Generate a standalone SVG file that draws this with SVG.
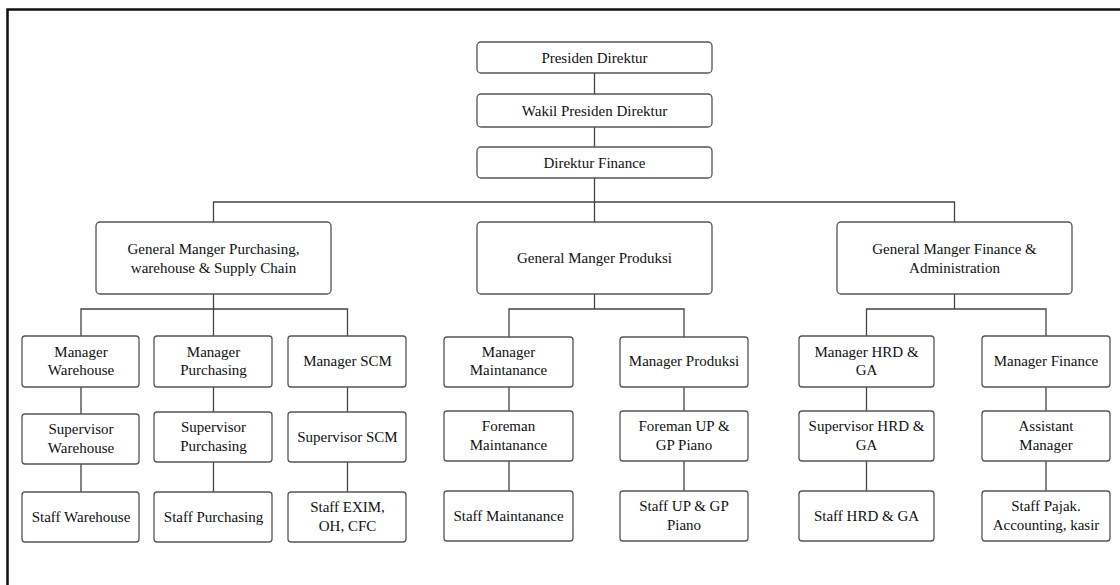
<svg xmlns="http://www.w3.org/2000/svg" width="1120" height="585" viewBox="0 0 1120 585">
  <style>
    .box { fill: #ffffff; stroke: #555555; stroke-width: 1.3; }
    text { font-family: 'Liberation Serif', Tinos, 'Noto Serif', FreeSerif, Times, 'DejaVu Serif', serif; font-size: 15px; fill: #111111; text-anchor: middle; }
    .wire { fill: none; stroke: #444444; stroke-width: 1.3; }
    .frame { fill: none; stroke: #111111; stroke-width: 2.5; }
  </style>

  <rect x="0" y="0" width="1120" height="585" fill="#ffffff"/>
  <!-- page frame (top and left edges) -->
  <path class="frame" d="M7.5,585 V9.5 H1120"/>

  <!-- connectors -->
  <g id="connectors">
    <path class="wire" d="M594.5,73 V94 M594.5,127 V147 M594.5,178 V222"/>
    <path class="wire" d="M213.5,222 V202 H954.5 V222"/>
    <!-- purchasing branch -->
    <path class="wire" d="M213.5,294 V309 M81,336 V309 H347.5 V336 M213.5,309 V336"/>
    <path class="wire" d="M81,387 V414 M81,464 V492 M213.5,387 V412 M213.5,462 V492 M347.5,387 V412 M347.5,462 V492"/>
    <!-- production branch -->
    <path class="wire" d="M594.5,294 V309 M509,337 V309 H684 V337"/>
    <path class="wire" d="M509,387 V411 M509,461 V491 M684,387 V411 M684,461 V491"/>
    <!-- finance branch -->
    <path class="wire" d="M954.5,294 V309 M866.5,336 V309 H1046 V336"/>
    <path class="wire" d="M866.5,387 V411 M866.5,461 V491 M1046,387 V411 M1046,461 V491"/>
  </g>

  <!-- top management -->
  <g id="presiden-direktur">
    <rect class="box" x="477" y="42" width="235" height="31" rx="4"/>
    <text x="594.5" y="62.5">Presiden Direktur</text>
  </g>
  <g id="wakil-presiden-direktur">
    <rect class="box" x="477" y="94" width="235" height="33" rx="4"/>
    <text x="594.5" y="115.5">Wakil Presiden Direktur</text>
  </g>
  <g id="direktur-finance">
    <rect class="box" x="477" y="147" width="235" height="31" rx="4"/>
    <text x="594.5" y="167.5">Direktur Finance</text>
  </g>

  <!-- general managers -->
  <g id="gm-purchasing">
    <rect class="box" x="96" y="222" width="235" height="72" rx="4"/>
    <text x="213.5" y="254">General Manger Purchasing,</text>
    <text x="213.5" y="273">warehouse &amp; Supply Chain</text>
  </g>
  <g id="gm-produksi">
    <rect class="box" x="477" y="222" width="235" height="72" rx="4"/>
    <text x="594.5" y="263">General Manger Produksi</text>
  </g>
  <g id="gm-finance">
    <rect class="box" x="837" y="222" width="235" height="72" rx="4"/>
    <text x="954.5" y="254">General Manger Finance &amp;</text>
    <text x="954.5" y="273">Administration</text>
  </g>

  <!-- purchasing, warehouse & supply chain -->
  <g id="manager-warehouse">
    <rect class="box" x="22" y="336" width="117" height="51" rx="3"/>
    <text x="81" y="357">Manager</text>
    <text x="81" y="375">Warehouse</text>
  </g>
  <g id="supervisor-warehouse">
    <rect class="box" x="22" y="414" width="117" height="50" rx="3"/>
    <text x="81" y="434">Supervisor</text>
    <text x="81" y="453">Warehouse</text>
  </g>
  <g id="staff-warehouse">
    <rect class="box" x="22" y="492" width="117" height="50" rx="3"/>
    <text x="81" y="522">Staff Warehouse</text>
  </g>
  <g id="manager-purchasing">
    <rect class="box" x="154" y="336" width="118" height="51" rx="3"/>
    <text x="213.5" y="357">Manager</text>
    <text x="213.5" y="375">Purchasing</text>
  </g>
  <g id="supervisor-purchasing">
    <rect class="box" x="154" y="412" width="118" height="50" rx="3"/>
    <text x="213.5" y="432">Supervisor</text>
    <text x="213.5" y="451">Purchasing</text>
  </g>
  <g id="staff-purchasing">
    <rect class="box" x="154" y="492" width="118" height="50" rx="3"/>
    <text x="213.5" y="522">Staff Purchasing</text>
  </g>
  <g id="manager-scm">
    <rect class="box" x="288" y="336" width="118" height="51" rx="3"/>
    <text x="347.5" y="366">Manager SCM</text>
  </g>
  <g id="supervisor-scm">
    <rect class="box" x="288" y="412" width="118" height="50" rx="3"/>
    <text x="347.5" y="442">Supervisor SCM</text>
  </g>
  <g id="staff-exim">
    <rect class="box" x="288" y="492" width="118" height="50" rx="3"/>
    <text x="347.5" y="512">Staff EXIM,</text>
    <text x="347.5" y="531">OH, CFC</text>
  </g>

  <!-- production -->
  <g id="manager-maintanance">
    <rect class="box" x="444" y="337" width="129" height="50" rx="3"/>
    <text x="508.5" y="357">Manager</text>
    <text x="508.5" y="375">Maintanance</text>
  </g>
  <g id="foreman-maintanance">
    <rect class="box" x="444" y="411" width="129" height="50" rx="3"/>
    <text x="508.5" y="431">Foreman</text>
    <text x="508.5" y="450">Maintanance</text>
  </g>
  <g id="staff-maintanance">
    <rect class="box" x="444" y="491" width="129" height="50" rx="3"/>
    <text x="508.5" y="521">Staff Maintanance</text>
  </g>
  <g id="manager-produksi">
    <rect class="box" x="620" y="337" width="128" height="50" rx="3"/>
    <text x="684" y="366">Manager Produksi</text>
  </g>
  <g id="foreman-up-gp">
    <rect class="box" x="620" y="411" width="128" height="50" rx="3"/>
    <text x="684" y="431">Foreman UP &amp;</text>
    <text x="684" y="450">GP Piano</text>
  </g>
  <g id="staff-up-gp">
    <rect class="box" x="620" y="491" width="128" height="50" rx="3"/>
    <text x="684" y="511">Staff UP &amp; GP</text>
    <text x="684" y="530">Piano</text>
  </g>

  <!-- finance & administration -->
  <g id="manager-hrd">
    <rect class="box" x="799" y="336" width="135" height="51" rx="3"/>
    <text x="866.5" y="357">Manager HRD &amp;</text>
    <text x="866.5" y="375">GA</text>
  </g>
  <g id="supervisor-hrd">
    <rect class="box" x="799" y="411" width="135" height="50" rx="3"/>
    <text x="866.5" y="431">Supervisor HRD &amp;</text>
    <text x="866.5" y="450">GA</text>
  </g>
  <g id="staff-hrd">
    <rect class="box" x="799" y="491" width="135" height="50" rx="3"/>
    <text x="866.5" y="521">Staff HRD &amp; GA</text>
  </g>
  <g id="manager-finance">
    <rect class="box" x="982" y="336" width="128" height="51" rx="3"/>
    <text x="1046" y="366">Manager Finance</text>
  </g>
  <g id="assistant-manager">
    <rect class="box" x="982" y="411" width="128" height="50" rx="3"/>
    <text x="1046" y="431">Assistant</text>
    <text x="1046" y="450">Manager</text>
  </g>
  <g id="staff-pajak">
    <rect class="box" x="982" y="491" width="128" height="50" rx="3"/>
    <text x="1046" y="511">Staff Pajak.</text>
    <text x="1046" y="530">Accounting, kasir</text>
  </g>
</svg>
